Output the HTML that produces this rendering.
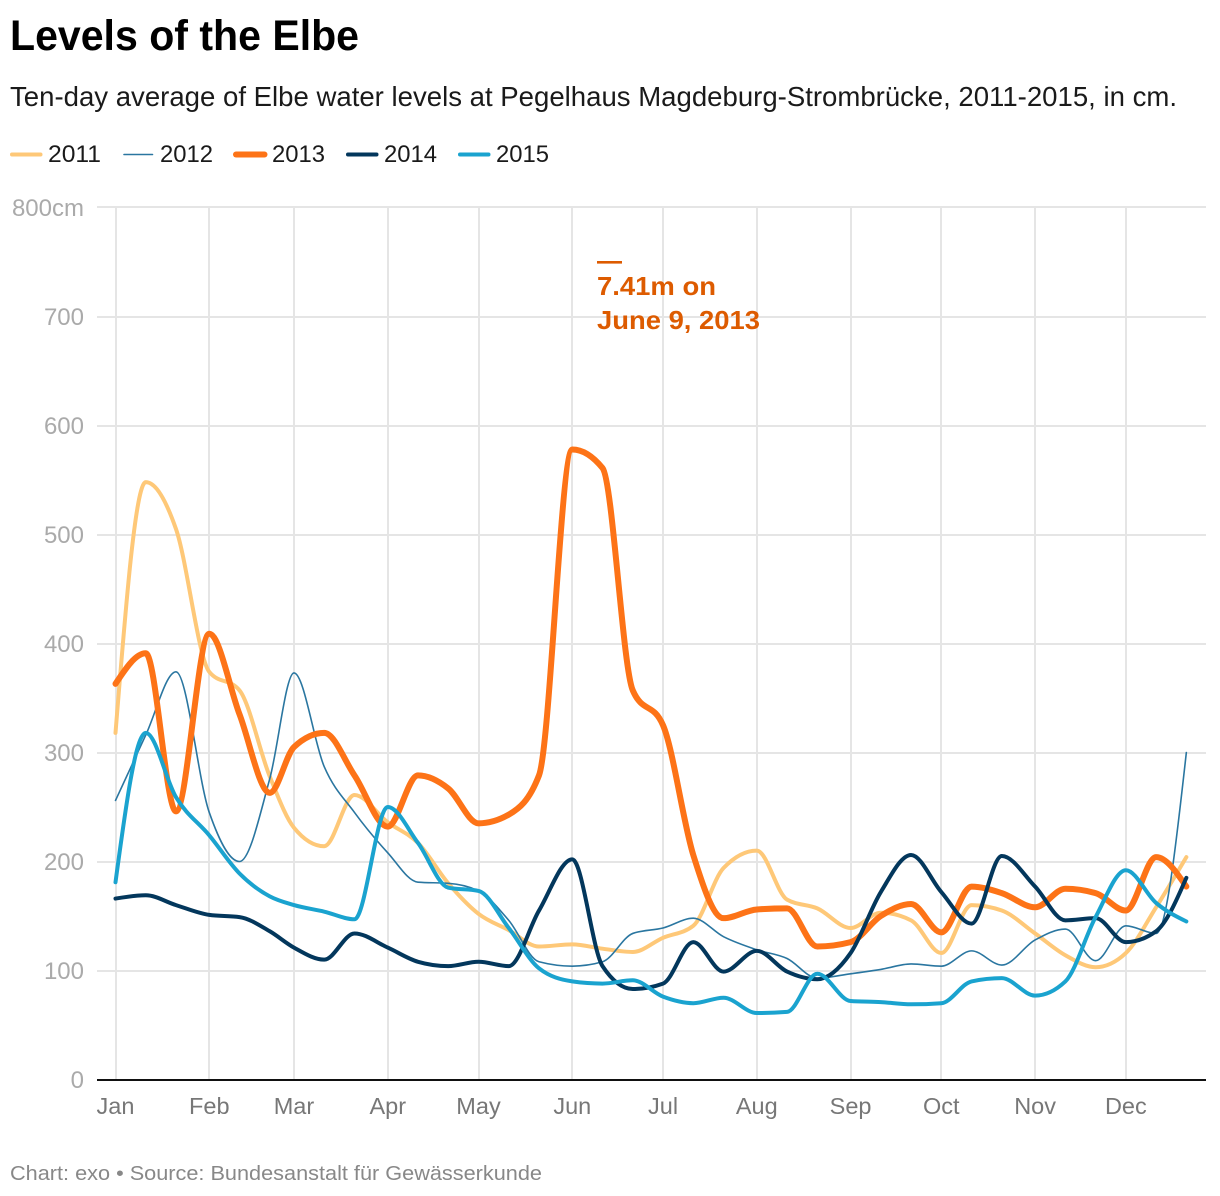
<!DOCTYPE html>
<html lang="en">
<head>
<meta charset="utf-8">
<title>Levels of the Elbe</title>
<style>
html,body{margin:0;padding:0;background:#fff;}
svg{display:block;font-family:"Liberation Sans",sans-serif;}
</style>
</head>
<body>
<svg id="chart" width="1220" height="1196" viewBox="0 0 1220 1196" xmlns="http://www.w3.org/2000/svg">
  <rect width="1220" height="1196" fill="#fff"/>
  <text x="10" y="50" font-size="43" font-weight="700" fill="#000" textLength="349" lengthAdjust="spacingAndGlyphs">Levels of the Elbe</text>
  <text x="10" y="106" font-size="27.5" fill="#1a1a1a" textLength="1167" lengthAdjust="spacingAndGlyphs">Ten-day average of Elbe water levels at Pegelhaus Magdeburg-Strombrücke, 2011-2015, in cm.</text>
  <g id="grid"></g>
  <g id="y-axis"></g>
  <g id="x-axis"></g>
  <g id="series"></g>
  <g id="legend"></g>
  <g fill="#dd5b00" font-weight="700" font-size="26">
    <rect x="597" y="261" width="25" height="2.6"/>
    <text x="597" y="295" textLength="119" lengthAdjust="spacingAndGlyphs">7.41m on</text>
    <text x="597" y="329" textLength="163" lengthAdjust="spacingAndGlyphs">June 9, 2013</text>
  </g>
  <text x="10" y="1180" font-size="20.5" fill="#888" textLength="532" lengthAdjust="spacingAndGlyphs">Chart: exo • Source: Bundesanstalt für Gewässerkunde</text>
</svg>
<script>
const dates = ["01-01","01-11","01-21","02-01","02-11","02-21","03-01","03-11","03-21","04-01","04-11","04-21","05-01","05-11","05-21","06-01","06-11","06-21","07-01","07-11","07-21","08-01","08-11","08-21","09-01","09-11","09-21","10-01","10-11","10-21","11-01","11-11","11-21","12-01","12-11","12-21"];
const values2011 = [318,548,505,374,357,278,231,214,261,236,217,180,152,137,122,124,120,117,130,141,194,210,165,157,139,153,146,116,160,155,134,114,103,116,158,204];
const values2012 = [256,316,374,245,200,276,373,287,245,208,181,180,173,146,108,104,108,134,139,148,131,119,111,93,97,101,106,104,118,105,128,138,109,141,134,300];
const values2013 = [363,391,246,409,335,263,305,318,279,232,279,267,235,243,279,578,561,357,325,206,148,156,157,122,126,150,161,135,177,171,158,175,171,155,204,177];
const values2014 = [166,169,160,151,149,136,121,110,134,121,108,104,108,104,155,202,104,83,88,126,99,118,99,92,116,172,206,172,143,205,177,146,148,126,136,185];
const values2015 = [181,318,259,224,189,168,160,154,147,250,217,176,173,139,102,90,88,91,76,70,75,61,62,97,72,71,69,70,90,93,77,90,149,192,162,145];
const yTicks = [0,100,200,300,400,500,600,700,800];
const monthLabels = ["Jan","Feb","Mar","Apr","May","Jun","Jul","Aug","Sep","Oct","Nov","Dec"];
const monthDates = ["01-01","02-01","03-01","04-01","05-01","06-01","07-01","08-01","09-01","10-01","11-01","12-01"];
const seriesNames = ["2011","2012","2013","2014","2015"];
const seriesValues = [values2011,values2012,values2013,values2014,values2015];
const seriesColors = ["#fec878","#2a76a0","#fd7317","#03375c","#1aa3cf"];
const seriesWidths = [4,1.6,6,4,4];

const NS = "http://www.w3.org/2000/svg";
function dayOfYear(s){
  const p = s.split("-");
  return (Date.UTC(2015, +p[0]-1, +p[1]) - Date.UTC(2015,0,1)) / 86400000;
}
function xScale(s){ return 115.5 + dayOfYear(s) * 3.025; }
function yScale(v){ return 1079.5 - v * 1.09; }

function mk(tag, attrs, parent){
  const el = document.createElementNS(NS, tag);
  for (const k in attrs) el.setAttribute(k, attrs[k]);
  parent.appendChild(el);
  return el;
}
function monotonePath(xs, ys){
  const n = xs.length;
  const slopes = [];
  for (let i = 0; i < n - 1; i++) slopes.push((ys[i+1]-ys[i])/(xs[i+1]-xs[i]));
  const t = new Array(n);
  for (let i = 1; i < n - 1; i++){
    const h0 = xs[i]-xs[i-1], h1 = xs[i+1]-xs[i];
    const s0 = slopes[i-1], s1 = slopes[i];
    const p = (s0*h1 + s1*h0)/(h0+h1);
    t[i] = (Math.sign(s0)+Math.sign(s1)) * Math.min(Math.abs(s0), Math.abs(s1), 0.5*Math.abs(p)) || 0;
  }
  t[0] = (3*slopes[0]-t[1])/2;
  t[n-1] = (3*slopes[n-2]-t[n-2])/2;
  let d = "M" + xs[0].toFixed(2) + "," + ys[0].toFixed(2);
  for (let i = 0; i < n - 1; i++){
    const dx = (xs[i+1]-xs[i])/3;
    d += "C" + (xs[i]+dx).toFixed(2) + "," + (ys[i]+dx*t[i]).toFixed(2) + " " +
         (xs[i+1]-dx).toFixed(2) + "," + (ys[i+1]-dx*t[i+1]).toFixed(2) + " " +
         xs[i+1].toFixed(2) + "," + ys[i+1].toFixed(2);
  }
  return d;
}

const grid = document.getElementById("grid");
const yAxis = document.getElementById("y-axis");
const xAxis = document.getElementById("x-axis");
const seriesGroup = document.getElementById("series");
const legend = document.getElementById("legend");

yTicks.forEach(function(t){
  const gy = Math.round(yScale(t));
  if (t !== 0) {
    const line = mk("line", {x1:97, x2:1206, y1:gy, y2:gy, stroke:"#e5e5e5", "stroke-width":2}, grid);
    
    
  }
  const label = mk("text", {x:84, y:yScale(t)+8.5, "text-anchor":"end", "font-size":24, fill:"#aaaaaa"}, yAxis);
  
  
  label.textContent = t === 800 ? t + "cm" : String(t);
});

monthLabels.forEach(function(m, i){
  const x = xScale(monthDates[i]);
  const gx = Math.round(x);
  const line = mk("line", {x1:gx, x2:gx, y1:Math.round(yScale(800)), y2:Math.round(yScale(0)), stroke:"#e5e5e5", "stroke-width":2}, grid);
  
  
  const label = mk("text", {x:x, y:1114, "text-anchor":"middle", "font-size":23.5, fill:"#777777"}, xAxis);
  
  
  label.textContent = m;
});

const baseline = mk("line", {x1:97, x2:1206, y1:Math.round(yScale(0)), y2:Math.round(yScale(0)), stroke:"#111", "stroke-width":2}, xAxis);



const xs = dates.map(xScale);
seriesNames.forEach(function(name, i){
  const ys = seriesValues[i].map(yScale);
  const path = mk("path", {d:monotonePath(xs, ys), fill:"none", stroke:seriesColors[i], "stroke-width":seriesWidths[i], "stroke-linejoin":"round", "stroke-linecap":"round"}, seriesGroup);
  
  

  const lx = 10.5 + i * 112;
  const sw = mk("line", {x1:lx + 1.5, x2:lx + 30, y1:154.5, y2:154.5, stroke:seriesColors[i], "stroke-width":seriesWidths[i], "stroke-linecap":"round"}, legend);
  
  
  const tx = mk("text", {x:lx + 37.5, y:162, "font-size":24, fill:"#1a1a1a", textLength:53, lengthAdjust:"spacingAndGlyphs"}, legend);
  
  
  tx.textContent = name;
});
</script>
</body>
</html>
